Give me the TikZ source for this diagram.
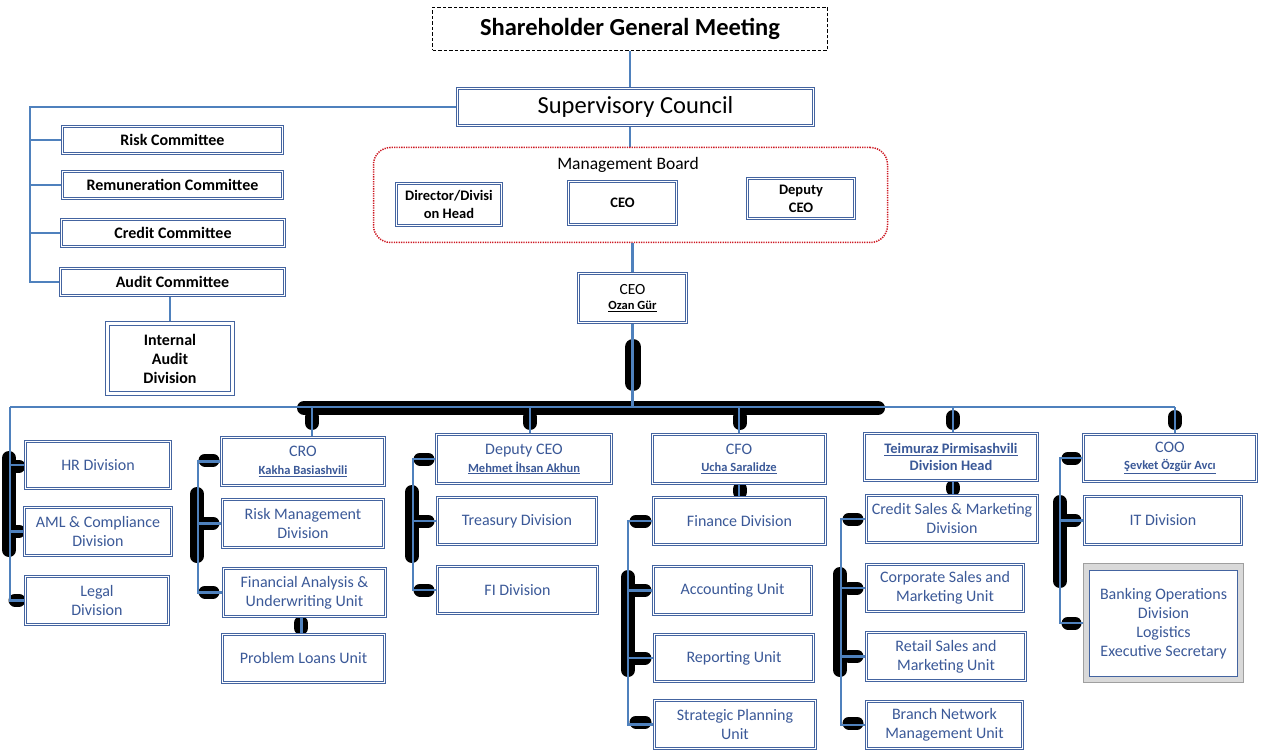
\documentclass[tikz,border=0pt]{standalone}
\usepackage{fontspec}
\setmainfont{Carlito}
\usetikzlibrary{calc}
\definecolor{conblue}{RGB}{79,129,189}
\definecolor{boxblue}{RGB}{68,100,160}
\definecolor{txtblue}{RGB}{59,89,152}
\definecolor{mbred}{RGB}{205,25,35}
\pgfdeclarelayer{bg}
\pgfsetlayers{bg,main}
\tikzset{
  bx/.style={draw=boxblue, double=white, double distance=1.3pt, line width=1pt, fill=white,
             inner sep=0pt, align=center, text=txtblue},
  conn/.style={draw=conblue, line width=2.5pt},
  blob/.style={draw=black, line width=14pt, line cap=round},
  ft/.style={font=\fontsize{16}{19}\selectfont},
  fcom/.style={font=\fontsize{16}{19}\selectfont\bfseries, text=black},
  fmb/.style={font=\fontsize{14.5}{18}\selectfont\bfseries, text=black},
}
\newcommand\nm[1]{{\fontsize{12.5}{14}\selectfont\bfseries\underline{#1}}}
\newcommand\Bx[7][]{%
  \pgfmathsetmacro\bw{#5-#3-3.3}\pgfmathsetmacro\bh{#6-#4-3.3}%
  \node[bx,ft,#1,minimum width=\bw pt,minimum height=\bh pt] (#2) at ({(#3+#5)/2},{(#4+#6)/2}) {#7};}
\begin{document}
\begin{tikzpicture}[x=1pt,y=-1pt]
\useasboundingbox (0,0) rectangle (1264,751);
% ---------- top ----------
\node[draw=black, line width=1.1pt, dash pattern=on 3.5pt off 2pt, minimum width=395pt, minimum height=43pt,
      inner sep=0pt, font=\fontsize{24.5}{28}\selectfont\bfseries] (sh) at (630,29) {Shareholder General Meeting};
\Bx[font=\fontsize{24.5}{28}\selectfont, text=black]{sc}{456}{87}{815}{127}{Supervisory Council}
\Bx[fcom]{risk}{61}{125}{284}{155}{Risk Committee}
\Bx[fcom]{remu}{61}{170}{284}{200}{Remuneration Committee}
\Bx[fcom]{cred}{60}{218}{286}{248}{Credit Committee}
\Bx[fcom]{audit}{59}{267}{286}{297}{Audit Committee}
\Bx[fcom, double distance=3pt, line width=1.2pt]{iad}{106}{322}{234}{395}{Internal\\Audit\\Division}
% management board
\node[draw=mbred, line width=1.5pt, dash pattern=on 1.3pt off 1.1pt, rounded corners=17pt,
      minimum width=514pt, minimum height=95pt, inner sep=0pt] (mb) at (630.5,195) {};
\node[font=\fontsize{17.5}{20}\selectfont] (mbl) at (628,165) {Management Board};
\Bx[fmb]{dir}{395}{182}{503}{227}{Director/Divisi\\on Head}
\Bx[fmb]{mceo}{567}{180}{678}{226}{CEO}
\Bx[fmb]{mdep}{746}{177}{856}{220}{Deputy\\CEO}
\Bx[text=black, font=\fontsize{15.5}{17}\selectfont]{ceo}{577}{272}{688}{324}{CEO\\[-2pt]\nm{Ozan Gür}}
% ---------- columns ----------
\Bx{hr}{24}{440}{172}{490}{HR Division}
\Bx{aml}{23}{506}{173}{557}{AML \& Compliance\\Division}
\Bx{legal}{24}{575}{170}{626}{Legal\\Division}
\Bx{cro}{220}{436}{386}{487}{CRO\\[-1pt]\nm{Kakha Basiashvili}}
\Bx{rmd}{221}{498}{385}{549}{Risk Management\\Division}
\Bx{fa}{222}{567}{387}{618}{Financial Analysis \&\\Underwriting Unit}
\Bx{pl}{221}{633}{386}{684}{Problem Loans Unit}
\Bx{dep}{435}{433}{613}{485}{Deputy CEO\\[-1pt]\nm{Mehmet İhsan Akhun}}
\Bx{tre}{436}{496}{598}{546}{Treasury Division}
\Bx{fi}{436}{565}{599}{615}{FI Division}
\Bx{cfo}{651}{433}{827}{485}{CFO\\[-2pt]\nm{Ucha Saralidze}}
\Bx{fin}{652}{496}{827}{546}{Finance Division}
\Bx{acc}{652}{565}{813}{616}{Accounting Unit}
\Bx{rep}{653}{633}{815}{683}{Reporting Unit}
\Bx{spu}{653}{699}{817}{750}{Strategic Planning\\Unit}
\Bx[font=\fontsize{14.5}{17}\selectfont\bfseries]{tei}{863}{432}{1039}{482}{\underline{Teimuraz Pirmisashvili}\\Division Head}
\Bx{csm}{865}{494}{1039}{544}{Credit Sales \& Marketing\\Division}
\Bx{corp}{865}{563}{1025}{613}{Corporate Sales and\\Marketing Unit}
\Bx{ret}{865}{631}{1027}{682}{Retail Sales and\\Marketing Unit}
\Bx{bnm}{865}{700}{1024}{750}{Branch Network\\Management Unit}
\Bx{coo}{1082}{433}{1258}{483}{COO\\[-2pt]\nm{Şevket Özgür Avcı}}
\Bx{it}{1083}{495}{1243}{546}{IT Division}
\node[draw=gray!75, fill=gray!30, line width=0.8pt, minimum width=160pt, minimum height=119pt, inner sep=0pt]
  (bankf) at (1163.5,623) {};
\node[draw=boxblue, line width=1.5pt, fill=white, minimum width=148pt, minimum height=106pt, inner sep=0pt,
      align=center, text=txtblue, ft] (bank) at (1163.5,623.5) {Banking Operations\\Division\\Logistics\\Executive Secretary};
% ---------- connectors ----------
\coordinate (cs) at (30,0);
\coordinate (hb) at (0,407);
\coordinate (s1) at (10,0);
\coordinate (s2) at (198,0);
\coordinate (s3) at (413,0);
\coordinate (s4) at (628,0);
\coordinate (s5) at (841,0);
\coordinate (s6) at (1060,0);
\begin{pgfonlayer}{bg}
% black blobs
\draw[blob] (304,408) -- (878,408);
\draw[blob, line width=16pt] (633,347) -- (633,383);
\foreach \x in {312,530,740,953,1175} \draw[blob] (\x,417) -- (\x,423);
\draw[blob] (740,489) -- (740,492);
\draw[blob] (953,487) -- (953,489);
\draw[blob] (301,623) -- (301,628);
% HR column
\draw[blob] (9,458) -- (9,550);
\foreach \y in {466,531,600} \draw[blob, line width=13pt] (15,\y) -- (19,\y);
% CRO column
\draw[blob] (197,494) -- (197,556);
\foreach \y in {460,523,592} \draw[blob, line width=13pt] (205,\y) -- (213,\y);
% Deputy CEO column
\draw[blob] (412,492) -- (412,556);
\foreach \y in {459,521,590} \draw[blob, line width=13pt] (420,\y) -- (428,\y);
% CFO column
\draw[blob] (628,577) -- (628,670);
\foreach \y in {521,590,658,722} \draw[blob, line width=13pt] (636,\y) -- (645,\y);
% Teimuraz column
\draw[blob] (840,574) -- (840,670);
\foreach \y in {519,588,656,723} \draw[blob, line width=13pt] (849,\y) -- (857,\y);
% COO column
\draw[blob] (1060,502) -- (1060,581);
\foreach \y in {458,520,623} \draw[blob, line width=13pt] (1068,\y) -- (1075,\y);
% blue connectors
\draw[conn] (sh.south) -- (sh.south |- sc.north);
\draw[conn] (sh.south |- sc.south) -- (sh.south |- mb.north);
\draw[conn] (ceo.north |- mb.south) -- (ceo.north);
\draw[conn] (sc.west) -| (cs |- audit.west) -- (audit.west);
\foreach \n in {risk,remu,cred} \draw[conn] (cs |- \n.west) -- (\n.west);
\draw[conn] (audit.south -| iad.north) -- (iad.north);
\draw[conn] (ceo.south) -- (ceo.south |- hb);
\draw[conn] (s1 |- hb) -- ([xshift=5pt]coo.north |- hb);
\draw[conn] ([xshift=9pt]cro.north |- hb) -- ([xshift=9pt]cro.north);
\draw[conn] ([xshift=6pt]dep.north |- hb) -- ([xshift=6pt]dep.north);
\draw[conn] (cfo.north |- hb) -- (cfo.north);
\draw[conn] ([xshift=2pt]tei.north |- hb) -- ([xshift=2pt]tei.north);
\draw[conn] ([xshift=5pt]coo.north |- hb) -- ([xshift=5pt]coo.north);
\draw[conn] (cfo.south) -- (cfo.south |- fin.north);
\draw[conn] ([xshift=2pt]tei.south) -- ([xshift=2pt]tei.south |- csm.north);
\draw[conn] ([xshift=-3pt]fa.south) -- ([xshift=-3pt]fa.south |- pl.north);
% column spines
\draw[conn] (s1 |- hb) -- (s1 |- legal.west) -- (legal.west);
\foreach \n in {hr,aml} \draw[conn] (s1 |- \n.west) -- (\n.west);
\draw[conn] (cro.west) -| (s2 |- fa.west) -- (fa.west);
\draw[conn] (s2 |- rmd.west) -- (rmd.west);
\draw[conn] (dep.west) -| (s3 |- fi.west) -- (fi.west);
\draw[conn] (s3 |- tre.west) -- (tre.west);
\draw[conn] (fin.west) -| (s4 |- spu.west) -- (spu.west);
\foreach \n in {acc,rep} \draw[conn] (s4 |- \n.west) -- (\n.west);
\draw[conn] (csm.west) -| (s5 |- bnm.west) -- (bnm.west);
\foreach \n in {corp,ret} \draw[conn] (s5 |- \n.west) -- (\n.west);
\draw[conn] (coo.west) -| (s6 |- bankf.west) -- (bankf.west);
\draw[conn] (s6 |- it.west) -- (it.west);
\end{pgfonlayer}
\end{tikzpicture}
\end{document}
